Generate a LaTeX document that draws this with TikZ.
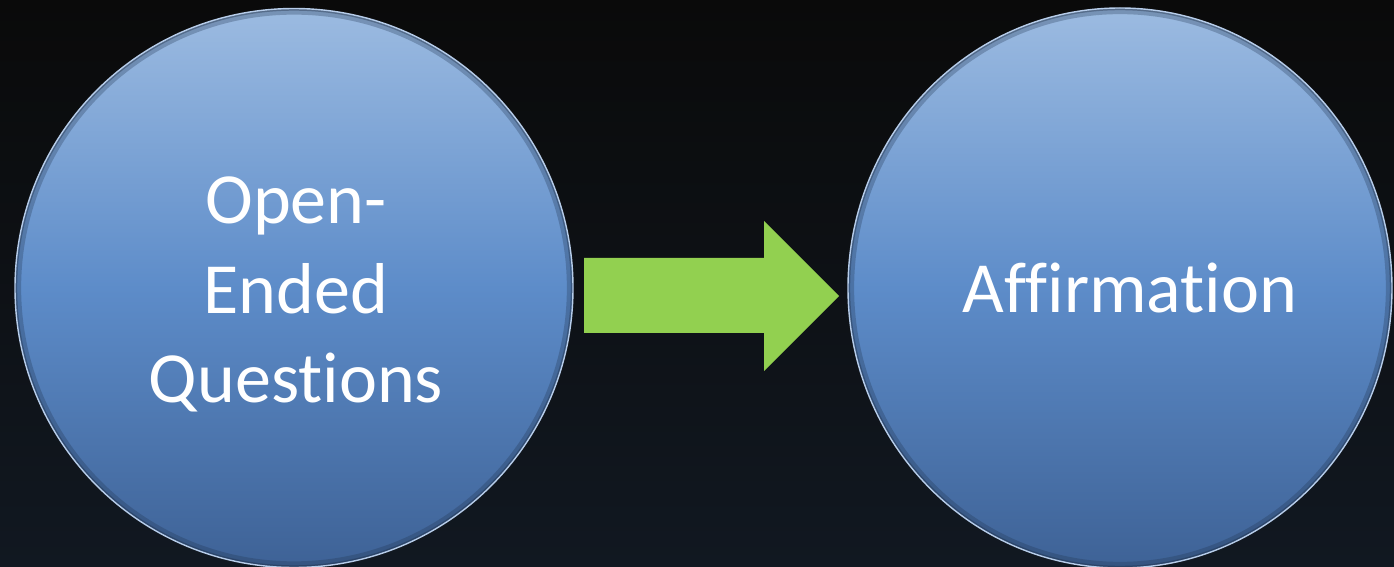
\documentclass[tikz,border=0pt]{standalone}
\usepackage{fontspec}
\setmainfont{Carlito}[RawFeature={-liga;-clig;-dlig}]
\usetikzlibrary{shapes.geometric}
\usepackage{xcolor}

\definecolor{bgtop}{HTML}{0A0A0A}
\definecolor{bgbot}{HTML}{111821}
\definecolor{balltop}{HTML}{9CBBE1}
\definecolor{ballmid}{HTML}{5D8CC9}
\definecolor{ballbot}{HTML}{3E6296}
\definecolor{ballrim}{HTML}{B7CDEA}
\definecolor{arrowgreen}{HTML}{92D050}

\begin{document}
\begin{tikzpicture}[
    x=0.02cm, y=-0.02cm,
    rim/.style={draw=ballbot!55!black, opacity=0.30, line width=7pt},
    rimdeep/.style={draw=ballbot!40!black, opacity=0.35, line width=2.5pt},
    ball/.style 2 args={ellipse, inner sep=0pt,
        minimum width=#1*0.02cm, minimum height=#2*0.02cm,
        top color=balltop, bottom color=ballbot, middle color=ballmid,
        draw=ballrim, line width=0.8pt,
        path picture={
            \draw[rim] (path picture bounding box.center) ellipse [x radius=#1/2, y radius=#2/2];
            \draw[rimdeep] (path picture bounding box.center) ellipse [x radius=#1/2, y radius=#2/2];
        }},
    lbl/.style={text=white, font=\fontsize{41}{51.2}\selectfont,
                align=center, inner sep=0pt}
]
% frame and dark backdrop
\useasboundingbox (0,0) rectangle (1394,567);
\fill[top color=bgtop, bottom color=bgbot] (0,0) rectangle (1394,567);

% the two discs
\node[ball={558}{559}] (qball) at (294,288) {};
\node[ball={544}{560}] (aball) at (1120,288) {};

% texts (base = baseline of the last line)
\node[lbl, anchor=base] (qtext) at ([shift={(2,115)}]qball.center)
    {Open-\\Ended\\Questions};
\node[lbl, anchor=base] (atext) at ([shift={(10,25)}]aball.center) {Affirmation};

% block arrow between the discs
\coordinate (tail) at (584,296);
\fill[arrowgreen] ([shift={(0,-38)}]tail) -- ++(180,0) -- ++(0,-37) -- (839,296)
    -- (764,371) -- ++(0,-38) -- ([shift={(0,37)}]tail) -- cycle;

\end{tikzpicture}
\end{document}
